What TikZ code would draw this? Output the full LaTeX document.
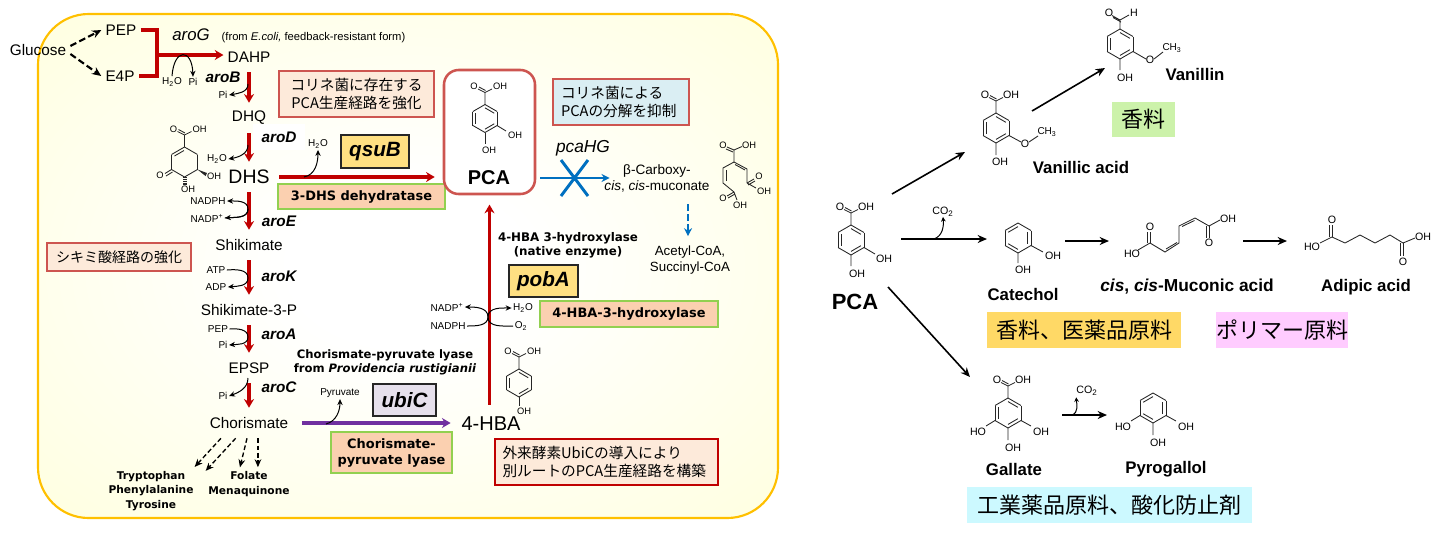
\documentclass[tikz,border=0pt]{standalone}
\usepackage{fontspec}
\setmainfont{Liberation Sans}
\newfontfamily\jpfont{Noto Sans CJK JP}
\newfontfamily\dvfont{DejaVu Sans}
\usetikzlibrary{arrows.meta,calc,positioning}
\definecolor{redline}{RGB}{192,0,0}
\definecolor{boxred}{RGB}{205,85,80}
\definecolor{bluemain}{RGB}{0,112,192}
\definecolor{purplemain}{RGB}{112,48,160}
\definecolor{panelyellow}{RGB}{255,255,185}
\definecolor{panelmid}{RGB}{255,255,208}
\definecolor{panelborder}{RGB}{255,192,0}
\definecolor{enzymefill}{RGB}{251,208,176}
\definecolor{enzymeline}{RGB}{146,208,80}
\definecolor{namefill}{RGB}{255,224,130}
\definecolor{ubicfill}{RGB}{230,224,236}
\definecolor{notepeach}{RGB}{253,234,218}
\definecolor{noteblue}{RGB}{218,238,243}
\definecolor{usegreen}{RGB}{204,242,170}
\definecolor{useyellow}{RGB}{255,217,102}
\definecolor{usepink}{RGB}{255,204,255}
\definecolor{usecyan}{RGB}{204,249,255}
\pgfdeclareradialshading{panelshade}{\pgfpointorigin}{color(0bp)=(white); color(8bp)=(white); color(50bp)=(panelmid); color(70bp)=(panelyellow)}
\newcommand{\fsz}[2]{\fontsize{#1}{#2}\selectfont}

% plain ring: x, y, radius
\newcommand{\plainring}[3]{%
  \foreach \a in {30,90,...,330} \draw[bond] (#1,-#2) +(\a:#3) -- +(\a+60:#3);
}
% ring: x, y, radius, angle where the first inner double bond starts
\newcommand{\aring}[4]{%
  \plainring{#1}{#2}{#3}
  \foreach \a in {0,120,240} \draw[bond] (#1,-#2) +(#4+\a:0.76*#3) -- +(#4+\a-60:0.76*#3);
}
% carboxyl on a ring top: name, x, y of ring top, label style
\newcommand{\cooh}[4]{%
  \draw[bond] (#2,-#3) -- (#2,12-#3) -- (#2+7,15.5-#3);
  \draw[bond] (#2,12-#3) -- (#2-7,15.5-#3);
  \draw[bond] (#2+0.5,14-#3) -- (#2-6,17.5-#3);
  \node[#4] (#1O) at (#2-11,18-#3) {O};
  \node[#4] (#1H) at (#2+15,18-#3) {OH};
}

\begin{document}
\begin{tikzpicture}[
  x=0.75pt, y=0.75pt,
  boxw/.style={minimum width=#1*0.75pt},
  boxh/.style={minimum height=#1*0.75pt},
  metab/.style={font=\fsz{11.5}{13}, inner sep=3pt, minimum height=22.5pt},
  small/.style={font=\fsz{7.5}{9}, inner sep=1pt},
  atom/.style={font=\fsz{7}{8}, inner sep=0pt},
  atomb/.style={font=\fsz{8}{9}, inner sep=0pt},
  gene/.style={font=\fsz{11.5}{13}\bfseries\itshape, inner sep=1pt},
  namebox/.style={draw=black!85, line width=1.2pt, fill=#1, font=\fsz{15.5}{17}\bfseries\itshape, inner sep=0pt},
  enzyme/.style={draw=enzymeline, line width=1.1pt, fill=enzymefill, font=\dvfont\bfseries\fsz{9.7}{12}, align=center, inner sep=0pt},
  note/.style={draw=boxred, line width=0.9pt, fill=#1, font=\jpfont\fsz{11}{13.8}, inner sep=0pt},
  usebox/.style={fill=#1, font=\jpfont\fsz{16.5}{20}, inner sep=0pt},
  compound/.style={font=\fsz{12.6}{15}\bfseries, inner sep=0pt},
  enzlabel/.style={font=\dvfont\bfseries\fsz{8.7}{10.4}, align=center, inner sep=0pt},
  endlabel/.style={font=\dvfont\bfseries\fsz{8}{11}, align=center, inner sep=0pt},
  bond/.style={line width=0.65pt, black!85},
  redarrow/.style={draw=redline, line width=2.5pt, -{Stealth[length=6.5pt,width=7.5pt]}},
  redbracket/.style={draw=redline, line width=2.5pt},
  side/.style={line width=0.75pt, -{Stealth[length=4.5pt,width=4pt]}},
  dasharrow/.style={line width=1.6pt, dash pattern=on 5pt off 2.5pt, -{Stealth[length=7pt,width=6pt]}},
  thindash/.style={line width=1pt, dash pattern=on 3.5pt off 2pt, -{Stealth[length=6pt,width=5pt]}},
  bluearrow/.style={draw=bluemain, line width=1.9pt, -{Stealth[length=6pt,width=6pt]}},
  blackarrow/.style={line width=1.2pt, -{Stealth[length=7pt,width=6pt]}}
]
\useasboundingbox (0,0) rectangle (1439,-533);

% -------- Panel --------
\node[draw=panelborder, line width=1.6pt, rounded corners=38pt, shading=panelshade,
  boxw=740, boxh=504] (panel) at (408,-266) {};

% -------- Upper pathway --------
\node[metab] (glucose) at (38,-50) {Glucose};
\node[metab] (pep) at (121,-30) {PEP};
\node[metab] (e4p) at (120,-76) {E4P};
\coordinate (brk) at (157,-55);
\node[metab] (dahp) at (249,-57) {DAHP};
\node[metab] (dhq) at (249,-118) {DHQ};
\node[metab, font=\fsz{14.6}{16}] (dhs) at (249,-177) {DHS};
\node[metab] (shikimate) at (249,-245) {Shikimate};
\node[metab] (s3p) at (249,-310) {Shikimate-3-P};
\node[metab] (epsp) at (249,-368) {EPSP};
\node[metab] (chorismate) at (249,-423) {Chorismate};
\node[metab, font=\fsz{15}{17}] (hba) at (491,-424) {4-HBA};

\node[font=\fsz{12.6}{14}\itshape, inner sep=0pt] (aroG) at (191,-35) {aroG};
\node[font=\fsz{8.4}{10}, inner sep=0pt] (aroGnote) at (313.5,-38) {(from \textit{E.coli,} feedback-resistant form)};
\node[gene] (aroB) at (223,-77) {aroB};
\node[gene, fill=white, boxw=52, boxh=26] (aroD) at (279,-137) {aroD};
\node[gene] (aroE) at (279,-221) {aroE};
\node[gene] (aroK) at (279,-276) {aroK};
\node[gene] (aroA) at (279,-334) {aroA};
\node[gene] (aroC) at (279,-387) {aroC};

\node[small] (h2oA) at (172,-82) {H\textsubscript{2}O};
\node[small] (piA) at (193,-82) {Pi};
\node[small] (piB) at (223,-95) {Pi};
\node[small] (h2oD) at (217,-159) {H\textsubscript{2}O};
\node[small] (h2oQ) at (318,-144) {H\textsubscript{2}O};
\node[small] (nadph) at (208,-201) {NADPH};
\node[small] (nadp) at (207,-218) {NADP\textsuperscript{+}};
\node[small] (atp) at (216,-270) {ATP};
\node[small] (adp) at (216,-287) {ADP};
\node[small] (pepA) at (218,-329) {PEP};
\node[small] (piA2) at (223,-345) {Pi};
\node[small] (piC) at (223,-396) {Pi};
\node[small] (pyruvate) at (340,-393) {Pyruvate};

% -------- Boxes --------
\node[note=notepeach, boxw=155, boxh=46, align=center] (noteA) at (356.5,-94) {コリネ菌に存在する\\PCA生産経路を強化};
\node[note=notepeach, font=\jpfont\fsz{10.5}{13}, boxw=144, boxh=28] (noteB) at (119,-257) {シキミ酸経路の強化};
\node[note=noteblue, boxw=136, boxh=46, align=left, text width=120*0.75pt] (noteC) at (621,-102) {コリネ菌による\\PCAの分解を抑制};
\node[note=notepeach, draw=redline, boxw=223, boxh=46, align=left, text width=208*0.75pt] (noteD) at (606.5,-462) {外来酵素UbiCの導入により\\別ルートのPCA生産経路を構築};

\node[namebox=namefill, boxw=68, boxh=33] (qsuB) at (375,-151.5) {qsuB};
\node[namebox=namefill, boxw=69, boxh=32] (pobA) at (543.5,-281) {pobA};
\node[namebox=ubicfill, boxw=63, boxh=32] (ubiC) at (404.5,-400) {ubiC};
\node[enzyme, boxw=167, boxh=25] (dehydratase) at (361.5,-196.5) {3-DHS dehydratase};
\node[enzyme, boxw=178, boxh=26] (hydroxylase) at (629,-314) {4-HBA-3-hydroxylase};
\node[enzyme, boxw=121, boxh=41] (lyase) at (391.5,-452.5) {Chorismate-\\pyruvate lyase};

\node[enzlabel, font=\dvfont\bfseries\fsz{8.9}{10.4}] (pobAlabel) at (568,-245) {4-HBA 3-hydroxylase\\(native enzyme)};
\node[enzlabel] (ubiClabel) at (385,-362) {Chorismate-pyruvate lyase\\from \textit{Providencia rustigianii}};
\node[endlabel] (aminos) at (151,-491) {Tryptophan\\Phenylalanine\\Tyrosine};
\node[endlabel] (folate) at (249,-484) {Folate\\Menaquinone};

% -------- PCA --------
\node[draw=boxred, line width=1.9pt, fill=white, rounded corners=11pt, boxw=91, boxh=124] (pcabox) at (489.5,-132) {};
\node[font=\fsz{15}{17}\bfseries, inner sep=0pt] (pcalabel) at (489,-178) {PCA};
\aring{485}{118.5}{14}{90}
\cooh{pca}{485}{104.5}{atom}
\draw[bond] (497,-125.5) -- (506,-131);
\draw[bond] (485,-132.5) -- (485,-144);
\node[atom] (pcaOHa) at (515,-135) {OH};
\node[atom] (pcaOHb) at (489,-150) {OH};

% -------- Degradation --------
\node[font=\fsz{13}{15}\itshape, inner sep=0pt] (pcaHG) at (583,-148) {pcaHG};
\node[font=\fsz{10.2}{12}, align=center, inner sep=0pt] (muconate) at (657,-178) {β-Carboxy-\\\textit{cis}, \textit{cis}-muconate};
\node[font=\fsz{10}{12}, align=center, inner sep=0pt] (acetyl) at (690,-260) {Acetyl-CoA,\\Succinyl-CoA};
\coordinate (hgfrom) at (540,-178);
\coordinate (dashfrom) at (688,-204);
\draw[bluearrow, shorten >=-4pt] (hgfrom) -- (muconate.west);
\draw[draw=bluemain, line width=2.2pt] (561,-160) -- (588,-196) (588,-160) -- (561,-196);
\draw[bluearrow, line width=1.4pt, dash pattern=on 5pt off 2.5pt, shorten >=7pt] (dashfrom) -- (dashfrom |- acetyl.north);

\draw[bond] (734,-150) -- (734,-162) -- (747,-169) -- (747,-183);
\draw[bond] (735,-164.5) -- (745,-170);
\draw[bond] (734,-150) -- (742,-146.5) (734,-150) -- (727,-147) (733,-152) -- (726,-149);
\draw[bond] (734,-162) -- (723,-168) -- (723,-183) -- (734,-192);
\draw[bond] (726,-170) -- (726,-181);
\draw[bond] (747,-183) -- (754,-179) (748,-185) -- (755,-181) (747,-183) -- (756,-188);
\draw[bond] (734,-192) -- (727,-196) (735,-194) -- (728,-198) (734,-192) -- (737,-200);
\node[atom] (bcO1) at (723,-145) {O};
\node[atom] (bcH1) at (749,-145) {OH};
\node[atom] (bcO2) at (759,-176) {O};
\node[atom] (bcH2) at (764,-191) {OH};
\node[atom] (bcO3) at (723,-198) {O};
\node[atom] (bcH3) at (740,-205) {OH};

% -------- DHS molecule --------
\plainring{184.5}{162}{15}
\draw[bond] (174.5,-156) -- (184,-150.5);
\cooh{dhsm}{184.5}{147}{atom}
\draw[bond] (171.5,-169.5) -- (165,-173.5) (172.5,-172) -- (166,-176);
\fill[black!85] (197.5,-169.5) -- (207,-173) -- (205.5,-176) -- cycle;
\draw[black!85, line width=3pt, dash pattern=on 0.6pt off 0.8pt] (184.5,-177) -- (184.5,-185);
\node[atom] (dhsmO3) at (160,-175) {O};
\node[atom] (dhsmA) at (214,-176) {OH};
\node[atom] (dhsmB) at (188,-189) {OH};

% -------- 4-HBA molecule --------
\aring{519}{383}{14}{90}
\cooh{hbam}{519}{369}{atom}
\draw[bond] (519,-397) -- (519,-406);
\node[atom] (hbamOH) at (524,-411) {OH};

% -------- Left connectors --------
\draw[dasharrow] ([yshift=3pt]glucose.east) -- (pep.west);
\draw[dasharrow] ([yshift=-3pt]glucose.east) -- (e4p.west);
\draw[redbracket] (pep.east) -| (brk) |- (e4p.east);
\draw[redarrow] (brk) -- (brk -| dahp.west);
\draw[side] (h2oA.north) .. controls (174,-48) and (192,-48) .. (piA.north);
\draw[redarrow] (dahp.south) -- (dhq.north);
\draw[redarrow] (dhq.south) -- (dhs.north);
\draw[redarrow] (dhs.south) -- (shikimate.north);
\draw[redarrow] (shikimate.south) -- (s3p.north);
\draw[redarrow] (s3p.south) -- (epsp.north);
\draw[redarrow] (epsp.south) -- (chorismate.north);
\draw[redarrow, shorten <=4pt, shorten >=6pt] (dhs.east) -- (dhs.east -| pcabox.west);
\draw[redarrow, shorten <=3pt, shorten >=7pt] (hba.north -| pcabox.south) -- (pcabox.south);
\draw[draw=purplemain, line width=2.5pt, -{Stealth[length=6.5pt,width=7.5pt]}, shorten <=7pt, shorten >=5pt] (chorismate.east) -- (chorismate.east -| hba.west);

\coordinate (mdB) at (248,-84);
\coordinate (mdD) at (248,-145);
\coordinate (mdE) at (248,-209);
\coordinate (mdK) at (248,-278);
\coordinate (mdA) at (248,-337);
\coordinate (mdC) at (248,-378);
\coordinate (mdQ) at (304,-177);
\coordinate (mdU) at (326,-424);
\coordinate (mdH) at (488,-317);
\draw[side] (mdB) to[out=-90,in=10] (piB.east);
\draw[side] (mdD) to[out=-90,in=10] (h2oD.east);
\draw[side, {Stealth[length=4.5pt,width=4pt]}-] (nadph.east) to[out=0,in=90] (mdE) to[out=-90,in=5] (nadp.east);
\draw[side] (mdE) to[out=-90,in=5] (nadp.east);
\draw[side] (atp.east) to[out=5,in=90] (mdK) to[out=-90,in=5] (adp.east);
\draw[side] (pepA.east) to[out=5,in=90] (mdA) to[out=-90,in=5] (piA2.east);
\draw[side] (mdC) to[out=-90,in=20] (piC.east);
\draw[side] (mdQ) to[out=10,in=-90] (h2oQ.south);
\draw[side] (mdU) to[out=15,in=-90] (pyruvate.south);

\node[small] (nadpB) at (447,-307) {NADP\textsuperscript{+}};
\node[small] (nadphB) at (448,-326) {NADPH};
\node[small] (h2oE) at (523,-308) {H\textsubscript{2}O};
\node[small] (o2) at (521,-326) {O\textsubscript{2}};
\draw[side] (nadphB.east) to[out=0,in=-90] (mdH) to[out=90,in=0] (nadpB.east);
\draw[side] (o2.west) to[out=180,in=-90] (mdH) to[out=90,in=180] (h2oE.west);

\draw[thindash, shorten >=4pt] ([xshift=-21pt]chorismate.south) -- ([xshift=30pt]aminos.north);
\draw[thindash] ([xshift=-10pt]chorismate.south) -- ([xshift=41pt]aminos.north);
\draw[thindash, shorten >=3pt] ([xshift=-1.5pt]chorismate.south) -- ([xshift=-7.5pt]folate.north);
\draw[thindash, shorten >=3pt] ([xshift=6.7pt]chorismate.south) -- ([xshift=6.7pt]folate.north);

% -------- Right: PCA --------
\aring{851}{240}{15}{90}
\cooh{rpca}{851}{225}{atomb}
\draw[bond] (864,-247.5) -- (875,-254) (851,-255) -- (851,-266);
\node[atomb] (rpcaA) at (884,-259) {OH};
\node[atomb] (rpcaB) at (857,-274) {OH};
\node[compound, font=\fsz{16.5}{18}\bfseries] (rpca) at (855,-302) {PCA};

% -------- Right: vanillic acid --------
\aring{996}{128}{15}{90}
\cooh{van}{996}{113}{atomb}
\draw[bond] (1009,-135.5) -- (1021,-142) (996,-143) -- (996,-155) (1029,-142) -- (1038,-136);
\node[atomb] (vanA) at (1000,-162) {OH};
\node[atomb] (vanO2) at (1025,-144) {O};
\node[atomb, font=\fsz{7.5}{9}] (vanM) at (1047,-132) {CH\textsubscript{3}};
\node[compound] (vanillic) at (1081,-167) {Vanillic acid};

% -------- Right: vanillin --------
\aring{1120}{44}{15}{90}
\draw[bond] (1120,-29) -- (1120,-20) -- (1129,-15) (1120,-20) -- (1112,-15.5) (1121,-22) -- (1113,-17.5);
\node[atomb] (vanlO) at (1109,-13) {O};
\node[atomb] (vanlH) at (1134,-13) {H};
\draw[bond] (1133,-51.5) -- (1146,-59) (1120,-59) -- (1120,-70) (1154,-59) -- (1163,-52);
\node[atomb] (vanlA) at (1125,-78) {OH};
\node[atomb] (vanlO2) at (1150,-60) {O};
\node[atomb, font=\fsz{7.5}{9}] (vanlM) at (1172,-48) {CH\textsubscript{3}};
\node[compound] (vanillin) at (1195,-74) {Vanillin};
\node[usebox=usegreen, boxw=63, boxh=35] (useA) at (1143.5,-119.5) {香料};

% -------- Right: catechol --------
\aring{1018}{238}{15}{150}
\draw[bond] (1031,-245.5) -- (1043,-252) (1018,-253) -- (1018,-263);
\node[atomb] (catA) at (1053,-256) {OH};
\node[atomb] (catB) at (1023,-270) {OH};
\node[compound] (catechol) at (1023,-294) {Catechol};

% -------- Right: muconic acid --------
\draw[bond] (1138,-250) -- (1150,-243) -- (1165,-252) -- (1179,-243) -- (1179,-226) -- (1195,-218) -- (1209,-226) -- (1220,-220);
\draw[bond] (1166,-249) -- (1177,-242.5) (1182,-226.5) -- (1194.5,-220.5);
\draw[bond] (1150,-243) -- (1150,-232) (1147.5,-243) -- (1147.5,-232);
\draw[bond] (1209,-226) -- (1209,-238) (1206.5,-226) -- (1206.5,-238);
\node[atomb] (mucA) at (1132,-254) {HO};
\node[atomb] (mucO1) at (1150,-227) {O};
\node[atomb] (mucO2) at (1209,-243) {O};
\node[atomb] (mucB) at (1228,-219) {OH};
\node[compound, font=\fsz{13}{15}\bfseries] (muconic) at (1187,-287) {\textit{cis}, \textit{cis}-Muconic acid};

% -------- Right: adipic acid --------
\draw[bond] (1320,-243) -- (1332,-237) -- (1345,-243) -- (1360,-235) -- (1375,-243) -- (1390,-235) -- (1403,-243) -- (1415,-238);
\draw[bond] (1332,-237) -- (1332,-225) (1329.5,-237) -- (1329.5,-225);
\draw[bond] (1403,-243) -- (1403,-256) (1400.5,-243) -- (1400.5,-256);
\node[atomb] (adiA) at (1312,-247) {HO};
\node[atomb] (adiO1) at (1332,-220) {O};
\node[atomb] (adiO2) at (1403,-262) {O};
\node[atomb] (adiB) at (1423,-237) {OH};
\node[compound] (adipic) at (1366,-287) {Adipic acid};

\node[usebox=useyellow, boxw=194, boxh=36] (useB) at (1084,-330) {香料、医薬品原料};
\node[usebox=usepink, boxw=132, boxh=36] (useC) at (1282,-330) {ポリマー原料};

% -------- Right: gallate --------
\aring{1008}{413}{15}{90}
\cooh{gal}{1008}{398}{atomb}
\draw[bond] (995,-420.5) -- (986,-426) (1021,-420.5) -- (1031,-426) (1008,-428) -- (1008,-440);
\node[atomb] (galA) at (978,-432) {HO};
\node[atomb] (galB) at (1041,-432) {OH};
\node[atomb] (galC) at (1013,-448) {OH};
\node[compound] (gallate) at (1014,-469) {Gallate};

% -------- Right: pyrogallol --------
\aring{1153}{408}{15}{150}
\draw[bond] (1140,-415.5) -- (1131,-421) (1166,-415.5) -- (1176,-421) (1153,-423) -- (1153,-435);
\node[atomb] (pyrA) at (1123,-427) {HO};
\node[atomb] (pyrB) at (1186,-427) {OH};
\node[atomb] (pyrC) at (1158,-443) {OH};
\node[compound] (pyrogallol) at (1166,-469) {Pyrogallol};
\node[usebox=usecyan, boxw=285, boxh=36] (useD) at (1109.5,-505) {工業薬品原料、酸化防止剤};

% -------- Right connectors --------
\node[atomb] (co2A) at (943,-212) {CO\textsubscript{2}};
\node[atomb] (co2B) at (1087,-391) {CO\textsubscript{2}};
\coordinate (rA) at (892,-194);
\coordinate (rB) at (965,-152);
\coordinate (rC) at (1032,-111);
\coordinate (rD) at (1105,-68);
\coordinate (rE) at (901,-239);
\coordinate (rF) at (987,-239);
\coordinate (rG) at (1065,-241);
\coordinate (rH) at (1109,-241);
\coordinate (rI) at (1243,-241);
\coordinate (rJ) at (1287,-241);
\coordinate (rK) at (888,-287);
\coordinate (rL) at (970,-377);
\coordinate (rM) at (1062,-415);
\coordinate (rN) at (1107,-415);
\coordinate (rP) at (934,-239);
\coordinate (rQ) at (1072,-415);
\draw[blackarrow] (rA) -- (rB);
\draw[blackarrow] (rC) -- (rD);
\draw[blackarrow] (rE) -- (rF);
\draw[blackarrow] (rG) -- (rH);
\draw[blackarrow] (rI) -- (rJ);
\draw[blackarrow] (rK) -- (rL);
\draw[blackarrow] (rM) -- (rN);
\draw[side, -{Stealth[length=3.5pt,width=3.5pt]}] (rP) to[out=20,in=-85] (co2A.south);
\draw[side, -{Stealth[length=3.5pt,width=3.5pt]}] (rQ) to[out=20,in=-85] ([yshift=-1pt]co2B.south west);

\end{tikzpicture}
\end{document}
